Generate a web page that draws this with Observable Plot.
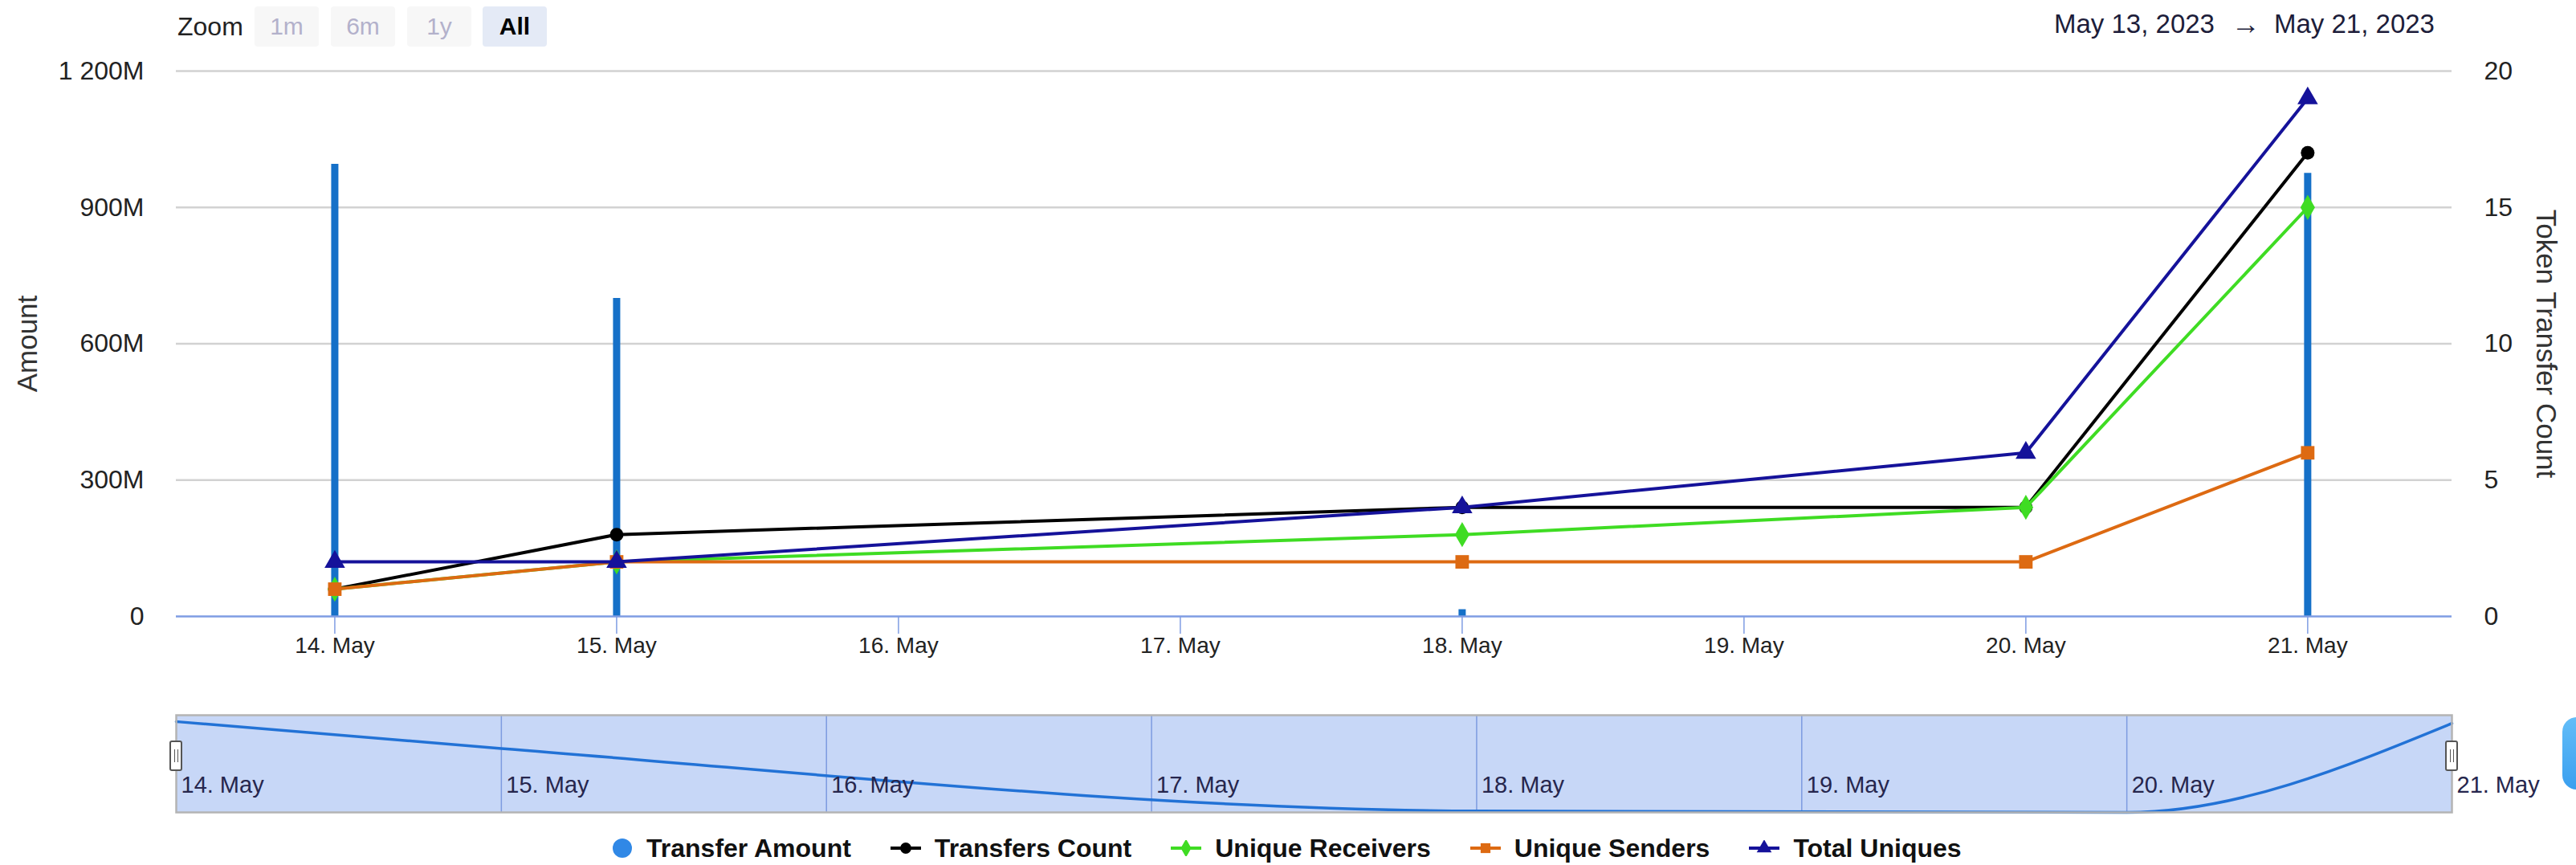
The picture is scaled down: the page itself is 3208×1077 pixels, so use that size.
<!DOCTYPE html>
<html>
<head>
<meta charset="utf-8">
<script src="https://cdn.jsdelivr.net/npm/d3@7"></script>
<script src="https://cdn.jsdelivr.net/npm/@observablehq/plot@0.6"></script>
<style>
  html, body { margin: 0; padding: 0; background: #fff; }
  body { width: 3208px; height: 1077px; position: relative; overflow: hidden;
         font-family: "Liberation Sans", Arial, sans-serif; color: #222; }
  .abs { position: absolute; }
  #zoomLabel { left: 221px; top: 8px; height: 50px; line-height: 50px; font-size: 32px; color: #222; }
  .btn { position: absolute; top: 8px; height: 50px; width: 80px; line-height: 50px; text-align: center;
         background: #f7f7f7; border-radius: 4px; font-size: 30px; color: #b3b1cb; }
  .btn.active { background: #e4eaf6; color: #000; font-weight: bold; }
  .range { top: 8px; height: 44px; line-height: 44px; font-size: 33px; color: #1d1d3a; }
  #main { left: 0; top: 0; }
  #nav { left: 0; top: 880px; }
  .handle { position: absolute; width: 16px; height: 38px; background: #fff; border: 2px solid #555;
            border-radius: 3px; box-sizing: border-box; }
  .handle::before, .handle::after { content: ""; position: absolute; top: 9px; height: 16px; width: 0;
            border-left: 1.5px solid #555; }
  .handle::before { left: 4px; } .handle::after { left: 8px; }
  #legend { left: 762px; top: 1036px; height: 40px; display: flex; align-items: center; gap: 49px;
            font-size: 32px; font-weight: bold; color: #111; white-space: nowrap; }
  .item { display: flex; align-items: center; gap: 17px; }
  #blob { left: 3191px; top: 893px; width: 70px; height: 90px; border-radius: 18px;
          background: linear-gradient(#62bdf8, #3a9fef); }
</style>
</head>
<body>
<div id="zoomLabel" class="abs">Zoom</div>
<div class="btn" style="left:317px">1m</div>
<div class="btn" style="left:412px">6m</div>
<div class="btn" style="left:507px">1y</div>
<div class="btn active" style="left:601px">All</div>
<div class="abs range" style="left:2558px">May 13, 2023</div>
<div class="abs range" style="left:2779px;font-size:36px">→</div>
<div class="abs range" style="left:2832px">May 21, 2023</div>
<div id="main" class="abs"></div>
<div id="nav" class="abs"></div>
<div class="handle" style="left:211px;top:922px"></div>
<div class="handle" style="left:3045px;top:922px"></div>
<div id="blob" class="abs"></div>
<div id="legend" class="abs"></div>
<script>
// ---------------- data ----------------
const dates = ["2023-05-14", "2023-05-15", "2023-05-18", "2023-05-20", "2023-05-21"];
const transferAmount = [995e6, 700e6, 15e6, 0, 975e6];
const transfersCount = [1, 3, 4, 4, 17];
const uniqueReceivers = [1, 2, 3, 4, 15];
const uniqueSenders = [1, 2, 2, 2, 6];
const totalUniques = [2, 2, 4, 6, 19];
const amountTicks = [0, 300e6, 600e6, 900e6, 1200e6];
const countTicks = [0, 5, 10, 15, 20];
const dayTicks = ["2023-05-14", "2023-05-15", "2023-05-16", "2023-05-17", "2023-05-18", "2023-05-19", "2023-05-20", "2023-05-21"];
const seriesNames = ["Transfer Amount", "Transfers Count", "Unique Receivers", "Unique Senders", "Total Uniques"];

// ---------------- setup ----------------
const parse = s => new Date(s + "T00:00:00Z");
const table = dates.map((d, i) => ({
  date: parse(d),
  amount: transferAmount[i],
  count: transfersCount[i],
  receivers: uniqueReceivers[i],
  senders: uniqueSenders[i],
  uniques: totalUniques[i]
}));
const countToAmount = amountTicks[amountTicks.length - 1] / countTicks[countTicks.length - 1];
const lineSeries = [
  {key: "count", name: seriesNames[1], color: "#000000", symbol: "circle"},
  {key: "receivers", name: seriesNames[2], color: "#3fdc23", symbol: "diamond"},
  {key: "senders", name: seriesNames[3], color: "#dd6a12", symbol: "square"},
  {key: "uniques", name: seriesNames[4], color: "#15129a", symbol: "triangle"}
];
const barColor = "#1570c8";
const fmtDay = d3.utcFormat("%-d. %b");
const fmtAmount = d => d === 0 ? "0" : d3.format(",")(d / 1e6).replace(/,/g, " ") + "M";
const font = "'Liberation Sans', Arial, sans-serif";

const seriesMarks = lineSeries.flatMap(s => [
  Plot.line(table, {x: "date", y: d => d[s.key] * countToAmount, stroke: s.color, strokeWidth: 4}),
  Plot.dot(table, {x: "date", y: d => d[s.key] * countToAmount, fill: s.color, symbol: s.symbol, r: s.symbol === "circle" ? 8.5 : 9.5, stroke: null})
]);

const main = Plot.plot({
  width: 3208, height: 860,
  marginTop: 88, marginBottom: 93, marginLeft: 219, marginRight: 155,
  style: {fontFamily: font, background: "transparent", overflow: "visible"},
  x: {type: "utc", domain: [new Date(Date.UTC(2023, 4, 13, 10, 30)), new Date(Date.UTC(2023, 4, 21, 12, 17))]},
  y: {domain: [0, 1200e6]},
  marks: [
    Plot.gridY(amountTicks.filter(t => t > 0), {stroke: "#d2d2d2", strokeOpacity: 1, strokeWidth: 2.5}),
    Plot.ruleX(table, {filter: d => d.amount > 0, x: "date", y1: 0, y2: "amount", stroke: barColor, strokeWidth: 9}),
    Plot.ruleY([0], {stroke: "#7f9de3", strokeWidth: 2.5}),
    Plot.axisX(dayTicks.map(parse), {tickFormat: fmtDay, tickSize: 22, tickPadding: 4, stroke: "#7f9de3", strokeWidth: 1.5, fill: "#222", fontSize: 28, label: null}),
    Plot.axisY(amountTicks, {anchor: "left", tickSize: 0, tickPadding: 40, tickFormat: fmtAmount, fill: "#222", fontSize: 32, label: null}),
    Plot.axisY(countTicks.map(c => c * countToAmount), {anchor: "right", tickSize: 0, tickPadding: 40, tickFormat: d => String(Math.round(d / countToAmount)), fill: "#222", fontSize: 32, label: null}),
    ...seriesMarks,
    Plot.text(["Amount"], {frameAnchor: "left", textAnchor: "middle", dx: -185, rotate: -90, fontSize: 35, fill: "#333"}),
    Plot.text(["Token Transfer Count"], {frameAnchor: "right", textAnchor: "middle", dx: 117, rotate: 90, fontSize: 35, fill: "#333"})
  ]
});
document.getElementById("main").appendChild(main);

const nav = Plot.plot({
  width: 3208, height: 140,
  marginTop: 10, marginBottom: 9, marginLeft: 219, marginRight: 155,
  style: {fontFamily: font, background: "transparent", overflow: "visible"},
  x: {type: "utc", domain: [parse(dayTicks[0]), parse(dayTicks[dayTicks.length - 1])], axis: null},
  y: {domain: [0, 1065e6], axis: null},
  marks: [
    Plot.frame({fill: "#c7d7f7", stroke: null}),
    Plot.ruleX(dayTicks.slice(1, -1).map(parse), {stroke: "#7d9be0", strokeWidth: 1.5}),
    Plot.line(table, {x: "date", y: "amount", curve: "monotone-x", stroke: "#2272d6", strokeWidth: 3.5}),
    Plot.frame({stroke: "#b4b4b4", strokeWidth: 2.5}),
    Plot.text(dayTicks.map(parse), {x: d => d, text: fmtDay, frameAnchor: "bottom", textAnchor: "start", lineAnchor: "bottom", dx: 6, dy: -25, fontSize: 29, fill: "#26264d"})
  ]
});
document.getElementById("nav").appendChild(nav);

// ---------------- legend ----------------
const legend = document.getElementById("legend");
function legendSymbol(kind, color) {
  const ns = "http://www.w3.org/2000/svg";
  const svg = document.createElementNS(ns, "svg");
  if (kind === "bar") {
    svg.setAttribute("width", 26); svg.setAttribute("height", 26);
    const c = document.createElementNS(ns, "circle");
    c.setAttribute("cx", 13); c.setAttribute("cy", 13); c.setAttribute("r", 12); c.setAttribute("fill", "#3088e6");
    svg.appendChild(c);
    return svg;
  }
  svg.setAttribute("width", 38); svg.setAttribute("height", 20);
  const l = document.createElementNS(ns, "line");
  l.setAttribute("x1", 0); l.setAttribute("x2", 38); l.setAttribute("y1", 10); l.setAttribute("y2", 10);
  l.setAttribute("stroke", color); l.setAttribute("stroke-width", 4);
  svg.appendChild(l);
  const p = document.createElementNS(ns, "path");
  const sym = {circle: d3.symbolCircle, diamond: d3.symbolDiamond, square: d3.symbolSquare, triangle: d3.symbolTriangle}[kind];
  p.setAttribute("d", d3.symbol(sym, 150)());
  p.setAttribute("transform", "translate(19,10)");
  p.setAttribute("fill", color);
  svg.appendChild(p);
  return svg;
}
const legendEntries = [{name: seriesNames[0], kind: "bar", color: barColor}]
  .concat(lineSeries.map(s => ({name: s.name, kind: s.symbol, color: s.color})));
for (const e of legendEntries) {
  const item = document.createElement("div");
  item.className = "item";
  item.appendChild(legendSymbol(e.kind, e.color));
  const t = document.createElement("span");
  t.textContent = e.name;
  item.appendChild(t);
  legend.appendChild(item);
}
</script>
</body>
</html>
